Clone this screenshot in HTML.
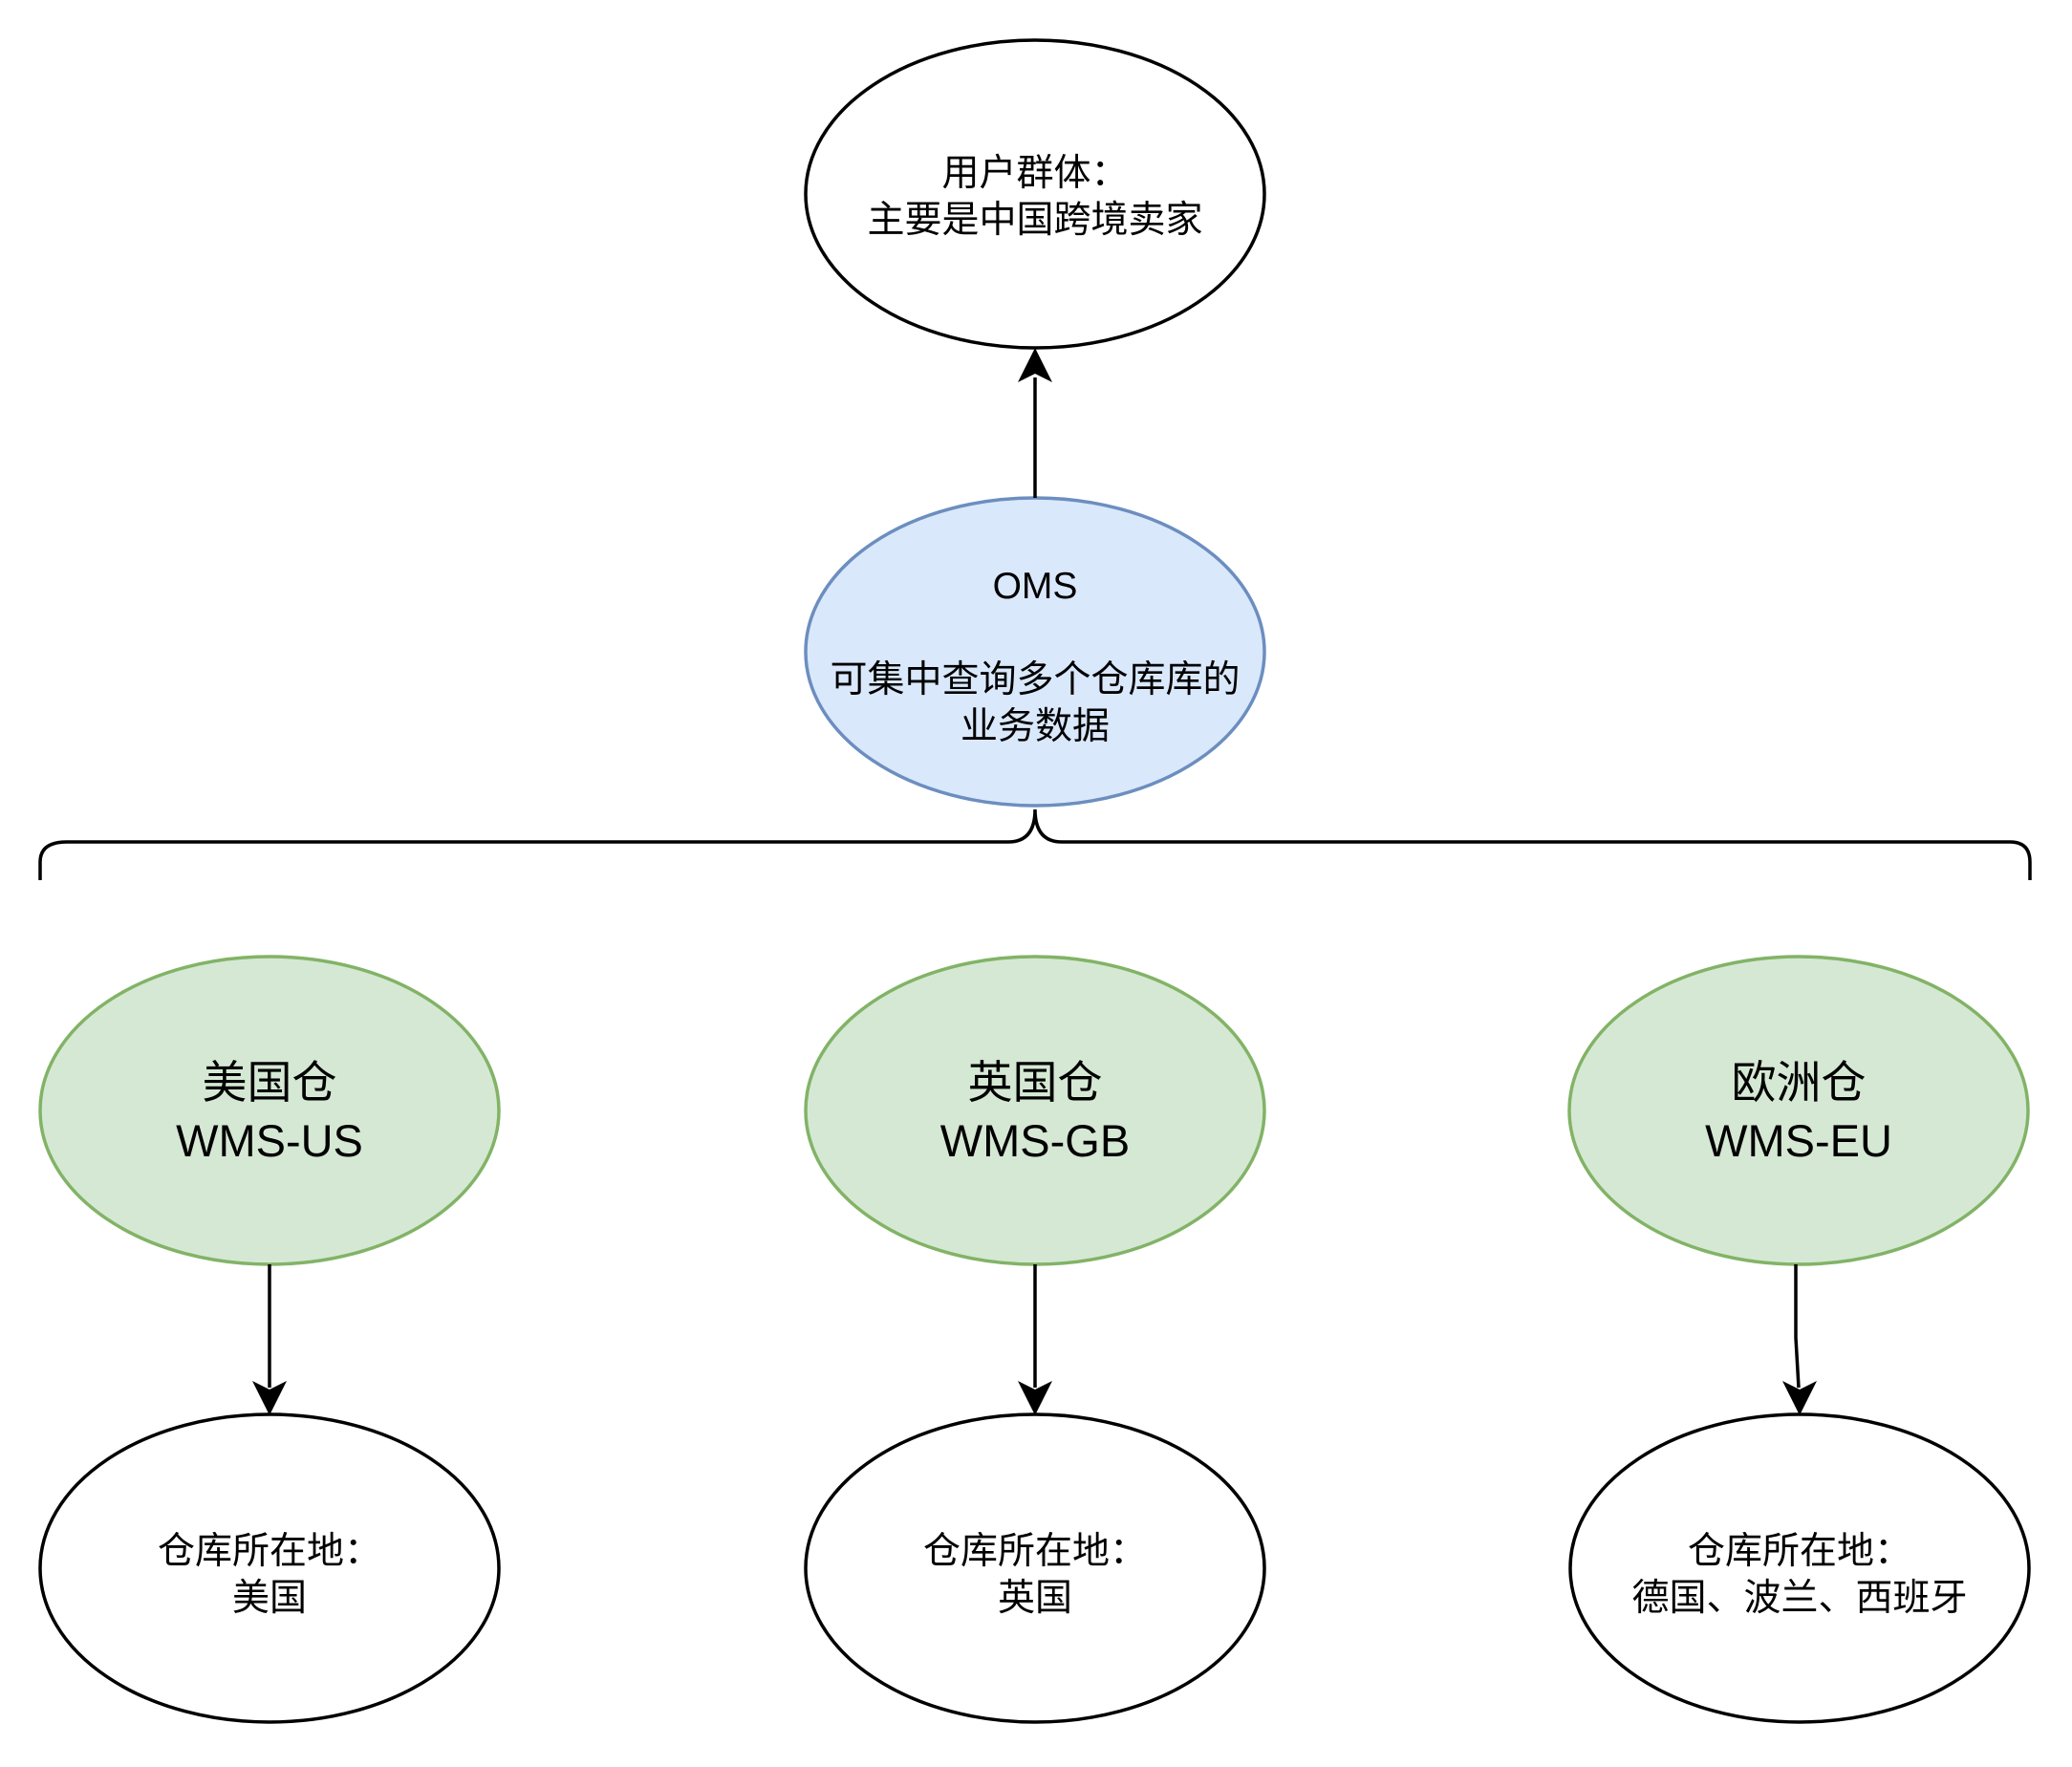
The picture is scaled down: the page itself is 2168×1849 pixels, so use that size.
<!DOCTYPE html>
<html><head><meta charset="utf-8"><style>
html,body{margin:0;padding:0;background:#fff;}
svg text{font-family:"Liberation Sans","Noto Sans CJK SC",sans-serif;fill:#000;text-anchor:middle;}
</style></head><body>
<svg width="2168" height="1844" viewBox="0 0 2168 1844" xmlns="http://www.w3.org/2000/svg">
<g stroke="#000" stroke-width="3.5" fill="none">
<ellipse cx="1083" cy="203" rx="240" ry="161" fill="#fff"/>
<ellipse cx="1083" cy="682" rx="240" ry="161" fill="#dae8fc" stroke="#6c8ebf"/>
<ellipse cx="282" cy="1162" rx="240" ry="161" fill="#d5e8d4" stroke="#82b366"/>
<ellipse cx="1083" cy="1162" rx="240" ry="161" fill="#d5e8d4" stroke="#82b366"/>
<ellipse cx="1882" cy="1162" rx="240" ry="161" fill="#d5e8d4" stroke="#82b366"/>
<ellipse cx="282" cy="1641" rx="240" ry="161" fill="#fff"/>
<ellipse cx="1083" cy="1641" rx="240" ry="161" fill="#fff"/>
<ellipse cx="1883" cy="1641" rx="240" ry="161" fill="#fff"/>
<path d="M42 921 V902 Q42 881 70 881 H1055 Q1083 881 1083 847 Q1083 881 1111 881 H2103 Q2124 881 2124 902 V921"/>
<line x1="1083" y1="521" x2="1083" y2="395"/>
<line x1="282" y1="1323" x2="282" y2="1452"/>
<line x1="1083" y1="1323" x2="1083" y2="1452"/>
<path d="M1879 1323 L1879 1400 L1882 1452"/>
</g>
<g fill="#000">
<path d="M1083 364 L1101 400 L1083 391 L1065 400 Z"/>
<path d="M282 1481 L264 1445 L282 1454 L300 1445 Z"/>
<path d="M1083 1481 L1065 1445 L1083 1454 L1101 1445 Z"/>
<path d="M1883 1481 L1865 1445 L1883 1454 L1901 1445 Z"/>
</g>
<g font-size="39">
<text x="1083" y="194">用户群体：</text>
<text x="1083" y="243">主要是中国跨境卖家</text>
<text x="1083" y="626">OMS</text>
<text x="1083" y="724">可集中查询多个仓库库的</text>
<text x="1083" y="773">业务数据</text>
</g>
<g font-size="47">
<text x="282" y="1149">美国仓</text>
<text x="282" y="1210">WMS-US</text>
<text x="1083" y="1149">英国仓</text>
<text x="1083" y="1210">WMS-GB</text>
<text x="1882" y="1149">欧洲仓</text>
<text x="1882" y="1210">WMS-EU</text>
</g>
<g font-size="39">
<text x="282" y="1636">仓库所在地：</text>
<text x="282" y="1685">美国</text>
<text x="1083" y="1636">仓库所在地：</text>
<text x="1083" y="1685">英国</text>
<text x="1883" y="1636">仓库所在地：</text>
<text x="1883" y="1685">德国、波兰、西班牙</text>
</g>
</svg>
</body></html>
